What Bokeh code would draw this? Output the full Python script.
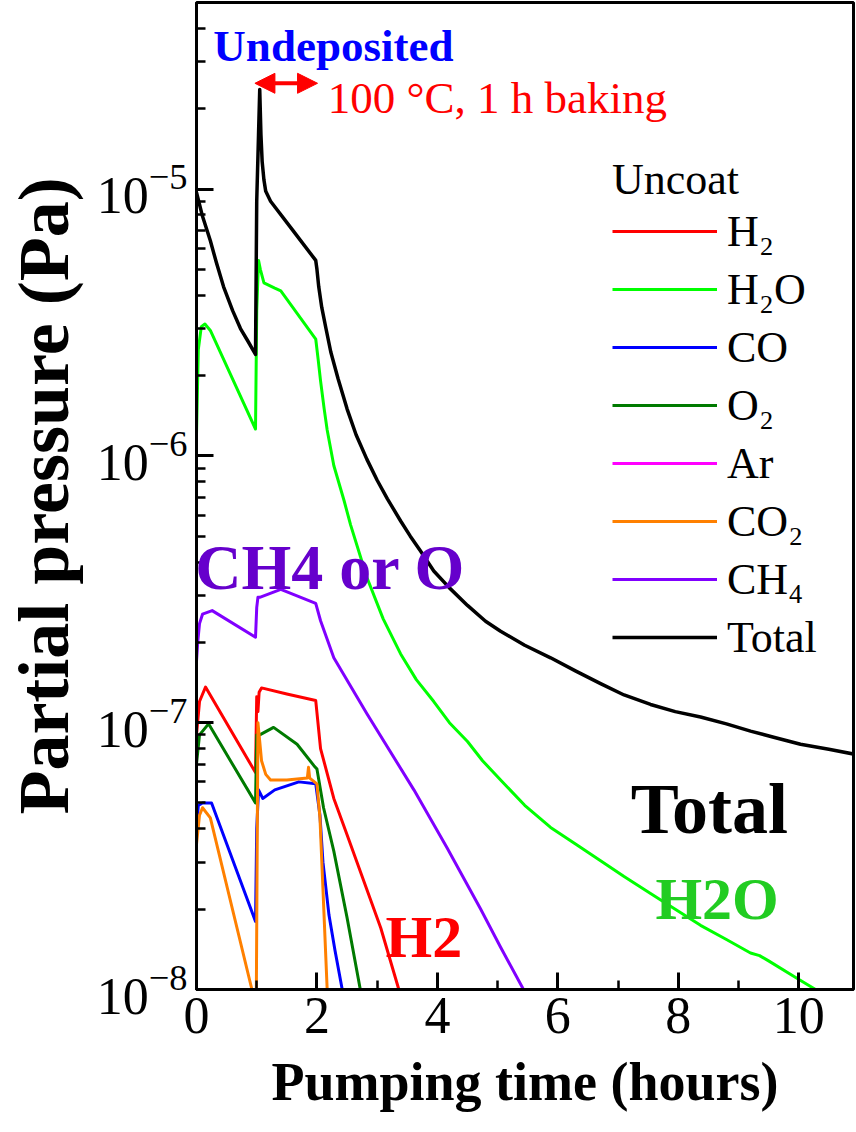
from bokeh.plotting import figure
from bokeh.models import (Range1d, FixedTicker, SingleIntervalTicker, Legend, LegendItem,
                          Label, Arrow, NormalHead)
from bokeh.embed import file_html
from bokeh.resources import INLINE

FONT = "Liberation Serif"

# ---------------- data (hours, Pa) ----------------
total_t = [0.0, 0.1, 0.23, 0.33, 0.45, 0.6, 0.73, 0.85, 0.98, 1.0, 1.03, 1.05, 1.07, 1.09, 1.12,
           1.15, 1.23, 1.6, 1.98, 2.0, 2.03, 2.08, 2.15, 2.23, 2.35, 2.5, 2.65, 2.83, 3.0, 3.17,
           3.39, 3.55, 3.72, 3.94, 4.2, 4.5, 4.8, 5.05, 5.45, 5.88, 6.3, 6.71, 7.1, 7.54, 7.95,
           8.37, 8.8, 9.2, 9.6, 10.03, 10.5, 10.95]
total_p = [9.7e-6, 7.9e-6, 6.4e-6, 5.3e-6, 4.3e-6, 3.5e-6, 3.0e-6, 2.7e-6, 2.4e-6, 9.0e-6, 1.6e-5,
           2.36e-5, 1.6e-5, 1.27e-5, 1.08e-5, 9.8e-6, 9.0e-6, 7.0e-6, 5.4e-6, 5.0e-6, 4.3e-6,
           3.6e-6, 3.0e-6, 2.45e-6, 1.95e-6, 1.5e-6, 1.2e-6, 9.7e-7, 8.1e-7, 6.9e-7, 5.7e-7,
           5.0e-7, 4.4e-7, 3.7e-7, 3.2e-7, 2.75e-7, 2.4e-7, 2.2e-7, 1.95e-7, 1.75e-7, 1.56e-7,
           1.4e-7, 1.27e-7, 1.17e-7, 1.1e-7, 1.05e-7, 9.9e-8, 9.3e-8, 8.8e-8, 8.3e-8, 7.95e-8,
           7.6e-8]

h2o_t = [0.0, 0.03, 0.08, 0.14, 0.23, 0.98, 1.0, 1.03, 1.06, 1.12, 1.3, 1.4, 1.98, 2.02, 2.06,
         2.12, 2.17, 2.28, 2.45, 2.56, 2.83, 3.1, 3.39, 3.65, 3.94, 4.2, 4.5, 4.75, 5.05, 5.45,
         5.88, 6.3, 6.71, 7.1, 7.54, 7.95, 8.37, 8.8, 9.2, 9.35, 9.5, 9.95, 10.28, 10.95]
h2o_p = [1.2e-6, 2.5e-6, 3.05e-6, 3.12e-6, 2.95e-6, 1.26e-6, 3.5e-6, 5.4e-6, 5.0e-6, 4.45e-6,
         4.25e-6, 4.15e-6, 2.74e-6, 2.3e-6, 1.91e-6, 1.5e-6, 1.25e-6, 9.2e-7, 6.8e-7, 5.5e-7,
         3.5e-7, 2.45e-7, 1.81e-7, 1.45e-7, 1.2e-7, 1.0e-7, 8.5e-8, 7.2e-8, 6.1e-8, 4.9e-8,
         4.05e-8, 3.5e-8, 3.04e-8, 2.65e-8, 2.29e-8, 2.0e-8, 1.74e-8, 1.54e-8, 1.37e-8, 1.34e-8,
         1.28e-8, 1.11e-8, 1.0e-8, 8.0e-9]

h2_t = [0.0, 0.05, 0.15, 0.98, 1.0, 1.02, 1.04, 1.08, 1.5, 1.98, 2.06, 2.28, 2.5, 3.06, 3.36, 3.5]
h2_p = [9.0e-8, 1.2e-7, 1.36e-7, 6.5e-8, 1.25e-7, 1.1e-7, 1.3e-7, 1.35e-7, 1.28e-7, 1.21e-7,
        8.0e-8, 5.2e-8, 3.8e-8, 1.7e-8, 1.0e-8, 8.5e-9]

co_t = [0.0, 0.03, 0.1, 0.25, 0.98, 1.0, 1.03, 1.1, 1.3, 1.7, 1.98, 2.05, 2.1, 2.2, 2.3, 2.42, 2.5]
co_p = [4.0e-8, 4.9e-8, 5.0e-8, 5.0e-8, 1.8e-8, 4.0e-8, 5.6e-8, 5.2e-8, 5.6e-8, 6.0e-8, 5.9e-8,
        4.5e-8, 3.0e-8, 1.9e-8, 1.4e-8, 1.0e-8, 8.5e-9]

o2_t = [0.0, 0.05, 0.2, 0.98, 1.0, 1.05, 1.28, 1.67, 1.95, 2.0, 2.11, 2.28, 2.5, 2.72, 2.8]
o2_p = [7.0e-8, 9.0e-8, 9.9e-8, 5.0e-8, 9.0e-8, 9.0e-8, 9.6e-8, 8.3e-8, 6.9e-8, 6.7e-8, 4.8e-8,
        3.3e-8, 1.86e-8, 1.0e-8, 9.0e-9]

ar_t = [0.0, 1.0, 2.0, 10.95]
ar_p = [6.0e-9, 8.0e-9, 6.0e-9, 3.0e-9]

co2_t = [0.0, 0.05, 0.1, 0.23, 0.92, 0.95, 0.99, 1.02, 1.05, 1.08, 1.15, 1.23, 1.5, 1.84, 1.86,
         1.88, 2.0, 2.05, 2.17, 2.2]
co2_p = [3.5e-8, 4.5e-8, 4.8e-8, 4.4e-8, 1.0e-8, 7.0e-9, 7.0e-9, 1.0e-7, 8.5e-8, 7.2e-8, 6.4e-8,
         6.1e-8, 6.1e-8, 6.2e-8, 6.8e-8, 6.2e-8, 5.9e-8, 4.4e-8, 1.0e-8, 8.0e-9]

ch4_t = [0.0, 0.02, 0.05, 0.1, 0.26, 0.98, 1.0, 1.02, 1.05, 1.4, 1.98, 2.06, 2.28, 2.83, 3.61,
         4.16, 4.72, 5.05, 5.43, 5.6]
ch4_p = [1.7e-7, 2.0e-7, 2.35e-7, 2.55e-7, 2.63e-7, 2.09e-7, 2.7e-7, 2.95e-7, 2.95e-7, 3.16e-7,
         2.8e-7, 2.41e-7, 1.75e-7, 1.08e-7, 5.6e-8, 3.4e-8, 2.0e-8, 1.44e-8, 1.0e-8, 9.0e-9]

legend_labels = ["H₂", "H₂O", "CO", "O₂", "Ar", "CO₂", "CH₄", "Total"]
x_ticks_interval = 2
y_major_ticks = [1e-8, 1e-7, 1e-6, 1e-5]
y_minor_ticks = [m * d for d in [1e-8, 1e-7, 1e-6, 1e-5] for m in range(2, 10) if m * d < 5e-5]

# ---------------- figure ----------------
p = figure(width=856, height=1132, y_axis_type="log",
           x_range=Range1d(0, 10.91), y_range=Range1d(1e-8, 5e-5),
           output_backend="svg", toolbar_location=None,
           min_border_left=196, min_border_right=3, min_border_top=2, min_border_bottom=143)
p.grid.visible = False
p.background_fill_color = "white"
p.border_fill_color = "white"
p.outline_line_color = "black"
p.outline_line_width = 3
p.outline_line_alpha = 1

series = [
    (h2_t, h2_p, "#FF0000", 3),
    (h2o_t, h2o_p, "#00FF00", 3),
    (co_t, co_p, "#0000FF", 3),
    (o2_t, o2_p, "#007A00", 3),
    (ar_t, ar_p, "#FF00FF", 3),
    (co2_t, co2_p, "#FF8000", 3),
    (ch4_t, ch4_p, "#8000FF", 3),
    (total_t, total_p, "#000000", 3.5),
]
renderers = []
for t, v, c, w in series:
    renderers.append(p.line(t, v, line_color=c, line_width=w, line_join="round"))

# axes
p.xaxis.ticker = SingleIntervalTicker(interval=x_ticks_interval, num_minor_ticks=2)
p.yaxis.ticker = FixedTicker(ticks=y_major_ticks, minor_ticks=y_minor_ticks)
for ax in (p.xaxis, p.yaxis):
    ax.axis_line_width = 3
    ax.axis_line_color = "black"
    ax.major_tick_in = 17
    ax.major_tick_out = 0
    ax.minor_tick_in = 9
    ax.minor_tick_out = 0
    ax.major_tick_line_width = 3
    ax.minor_tick_line_width = 2.5
    ax.major_label_text_font = FONT
    ax.major_label_text_font_size = "52px"
    ax.major_label_text_color = "black"
    ax.axis_label_text_font = FONT
    ax.axis_label_text_font_style = "bold"
    ax.axis_label_text_color = "black"
p.xaxis.major_label_standoff = 8
p.yaxis.major_label_standoff = 9
p.xaxis.axis_label = "Pumping time (hours)"
p.xaxis.axis_label_text_font_size = "54px"
p.xaxis.axis_label_standoff = 16
p.yaxis.axis_label = "Partial pressure (Pa)"
p.yaxis.axis_label_text_font_size = "72px"
p.yaxis.axis_label_standoff = 10

# legend
legend = Legend(items=[LegendItem(label=l, renderers=[r]) for l, r in zip(legend_labels, renderers)],
                title="Uncoat", location=(416, 326))
legend.title_text_font = FONT
legend.title_text_font_size = "44px"
legend.title_text_font_style = "normal"
legend.title_text_color = "black"
legend.title_standoff = 0
legend.label_text_font = FONT
legend.label_text_font_size = "44px"
legend.label_text_color = "black"
legend.glyph_width = 105
legend.glyph_height = 52
legend.label_height = 52
legend.label_standoff = 10
legend.spacing = 6
legend.padding = 0
legend.margin = 0
legend.border_line_alpha = 0
legend.background_fill_alpha = 0
p.add_layout(legend)

# annotations
def lab(x, y, text, size, color, style="bold"):
    p.add_layout(Label(x=x, y=y, text=text, text_font=FONT, text_font_size=size,
                       text_font_style=style, text_color=color, text_baseline="alphabetic"))

lab(0.28, 3.43e-5, "Undeposited", "45px", "#0000FF")
lab(2.18, 2.19e-5, "100 °C, 1 h baking", "45px", "#FF0000", "normal")
lab(-0.02, 3.81e-7, "CH4 or O", "64px", "#6600CC")
lab(7.21, 4.76e-8, "Total", "72px", "#000000")
lab(7.62, 2.19e-8, "H2O", "60px", "#22CC22")
lab(3.14, 1.57e-8, "H2", "60px", "#FF0000")

p.add_layout(Arrow(x_start=0.97, y_start=2.49e-5, x_end=2.01, y_end=2.49e-5,
                   line_color="#FF0000", line_width=4,
                   start=NormalHead(size=20, fill_color="#FF0000", line_color="#FF0000"),
                   end=NormalHead(size=20, fill_color="#FF0000", line_color="#FF0000")))

open("out.html", "w").write(file_html(p, INLINE))
